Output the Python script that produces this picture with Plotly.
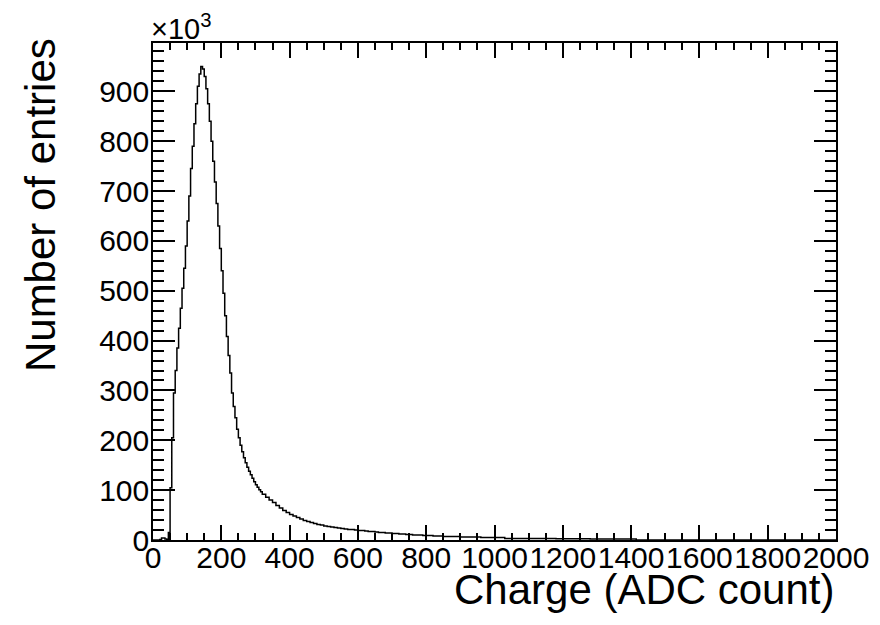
import numpy as np
import plotly.graph_objects as go

# Histogram contents in units of 10^3 entries
# segment A: bins of width 5 from 0 to 320
counts_a = [0, 0, 0, 0, 1, 4, 4, 2, 1, 15,
            105, 205, 295, 340, 385, 425, 465, 505, 545, 590,
            640, 690, 745, 790, 835, 875, 910, 935, 950, 945,
            930, 905, 875, 840, 800, 760, 718, 675, 630, 585,
            540, 495, 450, 408, 370, 335, 295, 268, 245, 222,
            205, 190, 177, 165, 155, 146, 138, 131, 124, 117,
            111, 106, 101, 97]
# segment B: bins of width 10 from 320 to 1030
counts_b = [92, 86, 80, 75, 69, 64, 59, 55, 51, 48,
            45, 42, 39, 37, 35, 33, 31, 30, 28, 27,
            26, 25, 24, 23, 22, 21, 21, 20, 19, 19,
            18, 17, 17, 16, 15, 15, 14, 14, 13, 13,
            12, 12, 11, 11, 10, 10, 10, 9, 9, 9,
            8, 8, 8, 7, 7, 7, 7, 7, 6, 6,
            6, 6, 6, 6, 5, 5, 5, 5, 5, 5, 5]
# segment C: explicit edges
edges_c = [1030, 1080, 1130, 1180, 1230, 1280, 1330, 1380, 1415, 2000]
counts_c = [3, 3, 3, 2.5, 2.5, 2, 2, 2, 0]

x_ticks = [0, 200, 400, 600, 800, 1000, 1200, 1400, 1600, 1800, 2000]
y_ticks = [0, 100, 200, 300, 400, 500, 600, 700, 800, 900]

edges_a = list(np.arange(0, 320, 5))
edges_b = list(np.arange(320, 1030, 10))
edges = edges_a + edges_b + edges_c
counts = counts_a + counts_b + counts_c
xs = edges
ys = counts + [counts[-1]]

FONT = "Liberation Sans, Arial, Helvetica, sans-serif"

fig = go.Figure()
fig.add_trace(go.Scatter(x=xs, y=ys, mode="lines", line_shape="hv",
                         line=dict(color="black", width=1.5),
                         hoverinfo="skip", showlegend=False))

fig.update_layout(
    width=880, height=625,
    margin=dict(l=145, r=52, t=35, b=93),
    paper_bgcolor="white", plot_bgcolor="white",
    font=dict(family=FONT, color="black", size=30),
    showlegend=False,
)
fig.update_xaxes(
    range=[0, 2000], showgrid=False, zeroline=False,
    showline=True, linecolor="black", linewidth=1.5, mirror="allticks",
    ticks="inside", ticklen=15, tickwidth=1.5, tickcolor="black",
    tickvals=x_ticks, ticktext=[str(v) for v in x_ticks], tickangle=0,
    ticklabelstandoff=-10,
    tickfont=dict(size=30, family=FONT, color="black"),
    minor=dict(ticks="inside", ticklen=7.5, tickwidth=1.5, tickcolor="black", dtick=50, showgrid=False),
)
fig.update_yaxes(
    range=[0, 997], showgrid=False, zeroline=False,
    showline=True, linecolor="black", linewidth=1.5, mirror="allticks",
    ticks="inside", ticklen=22, tickwidth=1.5, tickcolor="black",
    tickvals=y_ticks, ticktext=[str(v) for v in y_ticks],
    ticklabelstandoff=-4,
    tickfont=dict(size=30, family=FONT, color="black"),
    minor=dict(ticks="inside", ticklen=11, tickwidth=1.5, tickcolor="black", dtick=20, showgrid=False),
)

fig.add_annotation(text="Charge (ADC count)", xref="paper", yref="paper",
                   x=1.0, y=-0.1006, xanchor="right", yanchor="middle",
                   showarrow=False, font=dict(size=42, family=FONT, color="black"))
fig.add_annotation(text="Number of entries", xref="paper", yref="paper",
                   x=-0.1654, y=0.674, xanchor="center", yanchor="middle", textangle=-90,
                   showarrow=False, font=dict(size=42, family=FONT, color="black"))
fig.add_annotation(text="×10<sup>3</sup>", xref="paper", yref="paper",
                   x=-0.006, y=0.992, xanchor="left", yanchor="bottom",
                   showarrow=False, font=dict(size=29, family=FONT, color="black"))

fig.write_html("out.html")
